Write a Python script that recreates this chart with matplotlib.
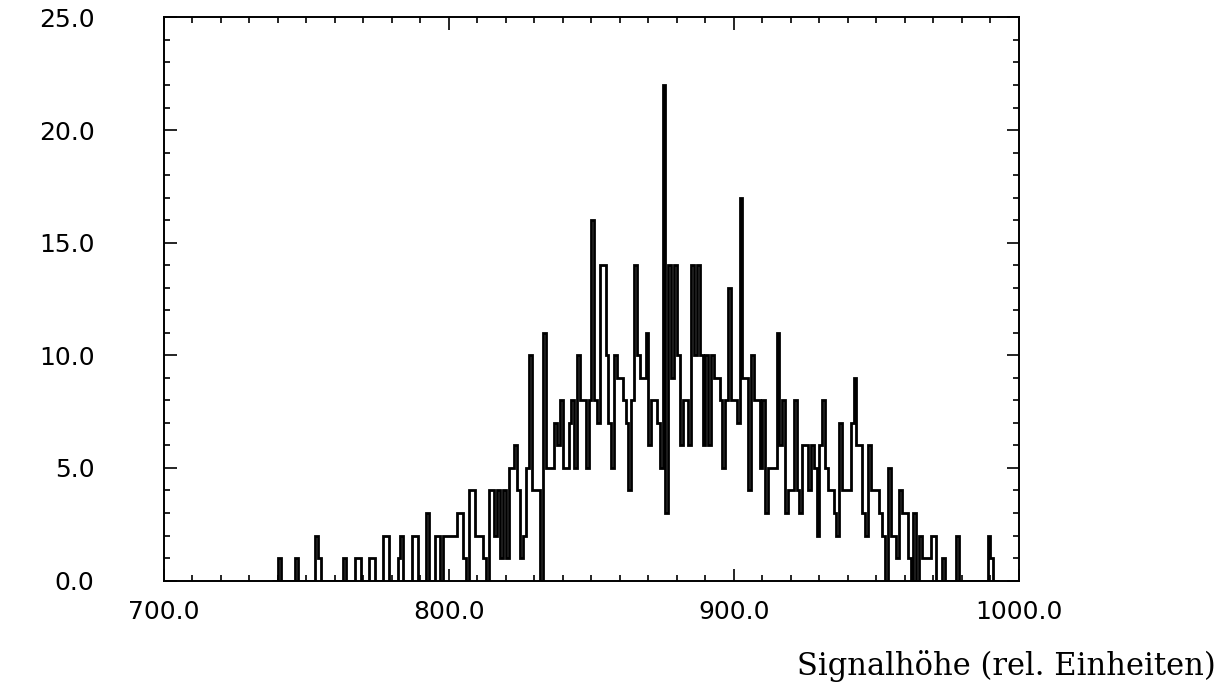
import numpy as np
import matplotlib.pyplot as plt
from matplotlib.ticker import MultipleLocator, FormatStrFormatter

# Kanalinhalt pro Kanal (Breite 1), erster Kanal bei 738
first_channel = 738

counts_left = [  # 738 - 812
    0, 0, 1, 0, 0, 0, 0, 0, 1, 0,
    0, 0, 0, 0, 0, 2, 1, 0, 0, 0,
    0, 0, 0, 0, 0, 1, 0, 0, 0, 1,
    1, 0, 0, 0, 1, 1, 0, 0, 0, 2,
    2, 0, 0, 0, 1, 2, 0, 0, 0, 2,
    2, 0, 0, 0, 3, 0, 0, 2, 2, 0,
    2, 2, 2, 2, 2, 3, 3, 1, 0, 4,
    4, 2, 2, 2, 1,
]

counts_core = [  # 813 - 902
    0, 4, 4, 2, 4, 1, 4, 1, 5, 5,
    6, 4, 1, 2, 5, 10, 4, 4, 4, 0,
    11, 5, 5, 5, 7, 6, 8, 5, 5, 7,
    8, 5, 10, 8, 8, 5, 8, 16, 8, 7,
    14, 14, 10, 7, 5, 10, 9, 9, 8, 7,
    4, 8, 14, 10, 9, 9, 11, 6, 8, 8,
    7, 5, 22, 3, 14, 9, 14, 10, 6, 8,
    8, 6, 14, 10, 14, 10, 6, 10, 6, 10,
    9, 9, 8, 5, 8, 13, 8, 8, 7, 17,
]

counts_right = [  # 903 - 992
    9, 9, 4, 10, 8, 8, 5, 8, 3, 5,
    5, 5, 11, 6, 8, 3, 4, 4, 8, 4,
    3, 6, 6, 4, 6, 5, 2, 6, 8, 5,
    4, 4, 3, 2, 7, 4, 4, 4, 7, 9,
    6, 6, 3, 2, 6, 4, 4, 4, 3, 2,
    0, 5, 2, 2, 1, 4, 3, 3, 1, 0,
    3, 0, 2, 1, 1, 1, 2, 2, 0, 0,
    1, 0, 0, 0, 0, 2, 0, 0, 0, 0,
    0, 0, 0, 0, 0, 0, 2, 1, 0, 0,
]

counts = np.array(counts_left + counts_core + counts_right)
edges = first_channel + np.arange(len(counts) + 1)

fig = plt.figure(figsize=(12.32, 6.97), dpi=100)
ax = fig.add_axes([0.133, 0.167, 0.694, 0.808])

ax.stairs(counts, edges, color="black", lw=2.0)

ax.set_xlim(700, 1000)
ax.set_ylim(0, 25)

ax.xaxis.set_major_locator(MultipleLocator(100))
ax.xaxis.set_minor_locator(MultipleLocator(10))
ax.yaxis.set_major_locator(MultipleLocator(5))
ax.yaxis.set_minor_locator(MultipleLocator(1))
ax.xaxis.set_major_formatter(FormatStrFormatter("%.1f"))
ax.yaxis.set_major_formatter(FormatStrFormatter("%.1f"))

ax.tick_params(which="both", direction="in", top=True, right=True, width=1.2)
ax.tick_params(which="major", length=9)
ax.tick_params(which="minor", length=4.5)
ax.tick_params(axis="x", which="major", pad=14, labelsize=18)
ax.tick_params(axis="y", which="major", pad=50, labelsize=18)

for s in ax.spines.values():
    s.set_linewidth(1.4)

fig.text(0.987, 0.045, "Signalhöhe (rel. Einheiten)", ha="right", va="center",
         fontsize=22, family="DejaVu Serif")

fig.savefig("out.png", dpi=100)
